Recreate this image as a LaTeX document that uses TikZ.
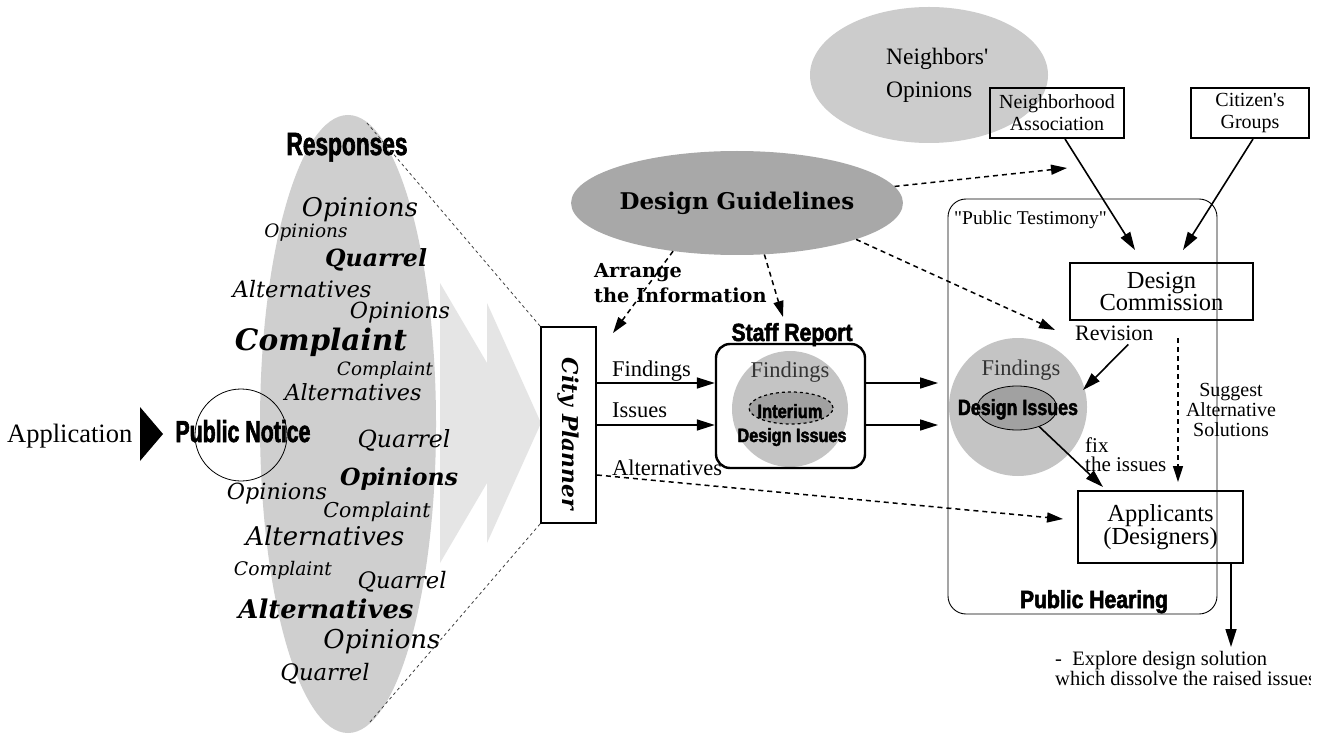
\documentclass[tikz,border=0pt]{standalone}
\usepackage{fontspec}
\usepackage{graphicx}
\setmainfont{Liberation Serif}[Ligatures=TeXOff]
\newfontfamily\dvs{DejaVu Serif}[Ligatures=TeXOff]
\newfontfamily\imp{Liberation Sans}[FakeStretch=0.75,FakeBold=2]
\usetikzlibrary{arrows.meta,shapes.geometric}
\definecolor{bigell}{gray}{0.81}
\definecolor{chev}{gray}{0.90}
\definecolor{dgell}{gray}{0.66}
\definecolor{nbell}{gray}{0.80}
\definecolor{fcol}{gray}{0.77}
\definecolor{inell}{gray}{0.63}
\newcommand\fitw[2]{\resizebox{#1}{!}{#2}}
\newcommand\fitwh[3]{\resizebox{#1}{#2}{#3}}
\newcommand\fsz[2]{\fontsize{#1}{#2}\selectfont}
\begin{document}
\begin{tikzpicture}[x=1pt,y=-1pt,
  arr/.style={line width=1.6pt,-{Triangle[length=18pt,width=11pt]}},
  darr/.style={line width=1.5pt,dash pattern=on 5pt off 4pt,-{Triangle[length=16pt,width=10pt]}},
  gdash/.style={line width=0.8pt,dash pattern=on 3pt off 3pt,black!75},
  sbox/.style={draw,line width=2pt,inner sep=0pt,align=center},
  lbl/.style={inner sep=0pt,anchor=base west},
  ctr/.style={inner sep=0pt,anchor=base},
  ]
\useasboundingbox (0,0) rectangle (1327,735);
\fill[white] (0,0) rectangle (1327,735);

% light chevrons
\fill[chev] (440,283) -- (487,363) -- (487,303) -- (541,423) -- (487,543) -- (487,483) -- (440,563) -- cycle;
% big responses ellipse
\node[ellipse, fill=bigell, minimum width=176pt, minimum height=618pt, inner sep=0] (resp) at (348,424) {};

% Application and Public Notice
\node[lbl, font=\fsz{26.5}{28}] (appl) at (7,442) {Application};
\fill (140,407) -- (163,434) -- (140,461) -- cycle;
\node[circle, draw, line width=0.8pt, minimum size=92pt, inner sep=0] (pn) at (241,435) {};
\node[ctr] (pntext) at (243,442) {\fitwh{135pt}{22pt}{\imp\bfseries Public Notice}};

% cloud of words
\node[ctr] (resptxt) at (347,155) {\fitwh{121pt}{22pt}{\imp\bfseries Responses}};
\node[ctr] (w1) at (360,217) {\fitw{116pt}{\dvs\itshape Opinions}};
\node[ctr] (w2) at (306,237) {\fitw{83pt}{\dvs\itshape Opinions}};
\node[ctr] (w3) at (376,267) {\fitw{102pt}{\dvs\bfseries\itshape Quarrel}};
\node[ctr] (w4) at (302,298) {\fitw{139pt}{\dvs\itshape Alternatives}};
\node[ctr] (w5) at (400,318) {\fitw{100pt}{\dvs\itshape Opinions}};
\node[ctr] (w6) at (321,350) {\fitw{172pt}{\dvs\bfseries\itshape Complaint}};
\node[ctr] (w7) at (385,375) {\fitw{96pt}{\dvs\itshape Complaint}};
\node[ctr] (w8) at (353,400) {\fitw{137pt}{\dvs\itshape Alternatives}};
\node[ctr] (w9) at (404,447) {\fitw{93pt}{\dvs\itshape Quarrel}};
\node[ctr] (w10) at (399,485) {\fitw{118pt}{\dvs\bfseries\itshape Opinions}};
\node[ctr] (w11) at (277,499) {\fitw{100pt}{\dvs\itshape Opinions}};
\node[ctr] (w12) at (377,517) {\fitw{107pt}{\dvs\itshape Complaint}};
\node[ctr] (w13) at (325,545) {\fitw{159pt}{\dvs\itshape Alternatives}};
\node[ctr] (w14) at (283,575) {\fitw{98pt}{\dvs\itshape Complaint}};
\node[ctr] (w15) at (402,588) {\fitw{89pt}{\dvs\itshape Quarrel}};
\node[ctr] (w16) at (326,618) {\fitw{175pt}{\dvs\bfseries\itshape Alternatives}};
\node[ctr] (w17) at (382,648) {\fitw{117pt}{\dvs\itshape Opinions}};
\node[ctr] (w18) at (325,680) {\fitw{89pt}{\dvs\itshape Quarrel}};

% City planner
\node[sbox, minimum width=55pt, minimum height=196pt] (planner) at (568.5,425) {};
\node[rotate=-90, inner sep=0] (plannertxt) at (568,434) {\fitw{152pt}{\dvs\bfseries\itshape City Planner}};
\coordinate (rtop) at (367,123);
\coordinate (rbot) at (370,722);
\draw[gdash] (planner.north west) -- (rtop);
\draw[gdash] (planner.south west) -- (rbot);

% Design Guidelines
\node[ellipse, fill=dgell, minimum width=262pt, minimum height=104pt, inner sep=0, font=\dvs\fsz{23}{26}\bfseries] (dg) at (737,203) {Design Guidelines};
\node[lbl, align=left, font=\dvs\fsz{19.3}{25}\bfseries] (arrange) at (594,302) {Arrange\\the Information};

% Staff report
\node[circle, fill=fcol, minimum size=116pt, inner sep=0] (scirc) at (790,409) {};
\node[draw, line width=2.4pt, rounded corners=14pt, minimum width=149pt, minimum height=124pt, inner sep=0] (staff) at (790.5,406) {};
\node[ctr] (srlbl) at (792,341) {\fitwh{121pt}{18pt}{\imp\bfseries Staff Report}};
\node[ctr, font=\fsz{22.5}{24}, text=black!80] (sfind) at (790,377) {Findings};
\node[ellipse, draw, dashed, line width=1.2pt, fill=inell, minimum width=84pt, minimum height=32pt, inner sep=0] (intell) at (791,408) {};
\node[ctr] (inter) at (790,418) {\fitwh{65pt}{14pt}{\imp\bfseries Interium}};
\node[ctr] (sdi) at (792,442) {\fitwh{109pt}{14pt}{\imp\bfseries Design Issues}};

% labels and arrows planner -> staff
\node[lbl, font=\fsz{22.5}{24}] (lfind) at (612,376) {Findings};
\node[lbl, font=\fsz{22.5}{24}] (liss) at (612,417) {Issues};
\node[lbl, font=\fsz{22.5}{24}] (lalt) at (612,475) {Alternatives};
\draw[arr] ([yshift=42pt]planner.east) -- ([yshift=23pt]staff.west);
\draw[arr] (planner.east) -- ([yshift=-19pt]staff.west);

% Public hearing
\node[draw, line width=0.9pt, rounded corners=18pt, minimum width=269pt, minimum height=415pt, inner sep=0] (ph) at (1082.5,406.5) {};
\node[lbl, font=\fsz{19.5}{21}] (ptest) at (954,225) {"Public Testimony"};
\node[ctr] (phlbl) at (1094,608) {\fitwh{148pt}{18pt}{\imp\bfseries Public Hearing}};

% findings circle
\node[circle, fill=fcol, minimum size=138pt, inner sep=0] (fcircle) at (1018,407) {};
\node[ctr, font=\fsz{22.5}{24}, text=black!80] (ffind) at (1021,375) {Findings};
\node[ellipse, draw, line width=0.8pt, fill=inell, minimum width=80pt, minimum height=44pt, inner sep=0] (diell) at (1017,408) {};
\node[ctr] (fdi) at (1018,415) {\fitwh{120pt}{16pt}{\imp\bfseries Design Issues}};

\coordinate (f1) at (938,383);
\coordinate (f2) at (938,425);
\draw[arr] ([yshift=23pt]staff.east) -- (f1);
\draw[arr] ([yshift=-19pt]staff.east) -- (f2);

% Neighbors
\node[ellipse, fill=nbell, minimum width=238pt, minimum height=136pt, inner sep=0] (nb) at (929,75) {};
\node[lbl, align=left, font=\fsz{23.5}{33}] (nbtxt) at (886,98) {Neighbors'\\Opinions};
\node[sbox, minimum width=134pt, minimum height=50pt, font=\fsz{20}{22}] (na) at (1057,113) {Neighborhood\\Association};
\node[sbox, minimum width=118pt, minimum height=50pt, font=\fsz{20}{22}] (cg) at (1250,113) {Citizen's\\Groups};
\node[sbox, line width=2.4pt, minimum width=183pt, minimum height=57pt, font=\fsz{24.5}{19}] (dc) at (1161.5,291.5) {Design\\Commission};
\node[sbox, line width=2.4pt, minimum width=165pt, minimum height=72pt, font=\fsz{24.5}{22}] (app) at (1160.5,527) {Applicants\\(Designers)};

\node[lbl, font=\fsz{22}{24}] (rev) at (1075,340) {Revision};
\node[align=center, inner sep=0, font=\fsz{20}{20}] (sugg) at (1231,410) {Suggest\\Alternative\\Solutions};
\node[lbl, align=left, font=\fsz{21}{19}] (fix) at (1085,471) {fix\\the issues};

% dashed arrows from Design Guidelines
\coordinate (dgtoplan) at (613,333);
\coordinate (dgtostaff) at (783,317);
\coordinate (dgtona) at (1067,168);
\coordinate (dgtoph) at (1055,330);
\draw[darr] (dg.217) -- (dgtoplan);
\draw[darr] (dg.298) -- (dgtostaff);
\draw[darr] (dg.6) -- (dgtona);
\draw[darr] (dg.343) -- (dgtoph);

% Alternatives dashed
\coordinate (altend) at (1063,519);
\draw[darr] ([yshift=-50pt]planner.east) -- (altend);

% solid arrows on the right
\coordinate (dcin1) at (1135,250);
\coordinate (dcin2) at (1183,250);
\draw[arr] ([xshift=8pt]na.south) -- (dcin1);
\draw[arr] ([xshift=3pt]cg.south) -- (dcin2);
\coordinate (revend) at (1083,390);
\draw[arr] ([xshift=14pt,yshift=-4pt]rev.south) -- (revend);
\coordinate (sugtop) at (1178,338);
\coordinate (sugend) at (1178,482);
\draw[darr] (sugtop) -- (sugend);
\coordinate (fixend) at (1103,487);
\draw[arr] (diell.-40) -- (fixend);
\coordinate (expl) at (1231,647);
\draw[arr] (app.south -| expl) -- (expl);

\begin{scope}
\clip (1000,640) rectangle (1310,705);
\node[lbl, align=left, font=\fsz{20.5}{17}] (exptxt) at (1055,685) {-\ \ Explore design solution\\which dissolve the raised issues};
\end{scope}
\end{tikzpicture}
\end{document}
